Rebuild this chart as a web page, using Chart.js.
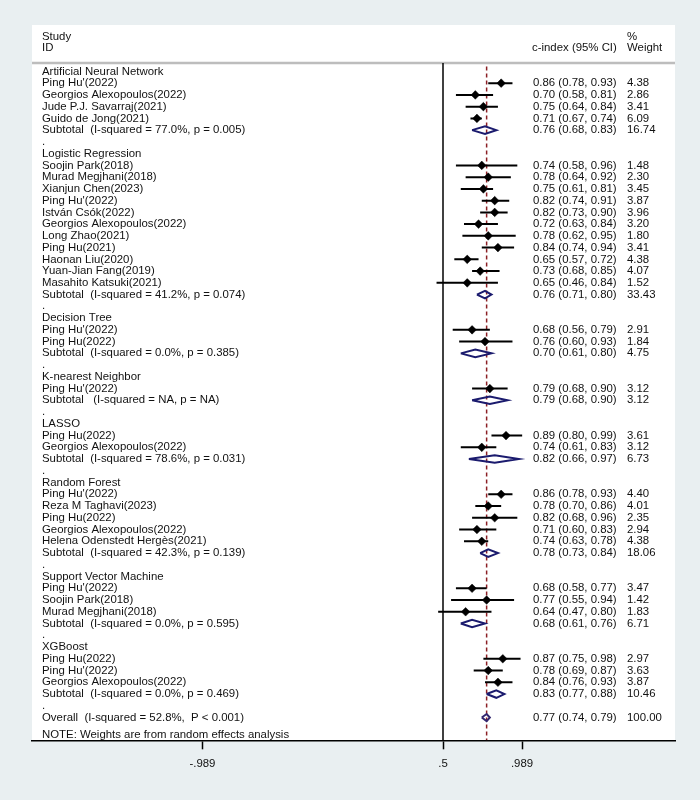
<!DOCTYPE html>
<html>
<head>
<meta charset="utf-8">
<script src="https://cdn.jsdelivr.net/npm/chart.js@4.4.1/dist/chart.umd.min.js"></script>
<style>
  html, body { margin: 0; padding: 0; background: #e9eff1; }
  #wrap { width: 700px; height: 800px; }
</style>
</head>
<body>
<div id="wrap"><canvas id="forest" width="700" height="800"></canvas></div>
<script>
// c-index (95% CI) by model family, random effects
const groupNames = ['Artificial Neural Network', 'Logistic Regression', 'Decision Tree', 'K-nearest Neighbor',
  'LASSO', 'Random Forest', 'Support Vector Machine', 'XGBoost'];

const studyNames = [
  "Ping Hu'(2022)", 'Georgios Alexopoulos(2022)', 'Jude P.J. Savarraj(2021)', 'Guido de Jong(2021)',
  'Soojin Park(2018)', 'Murad Megjhani(2018)', 'Xianjun Chen(2023)', "Ping Hu'(2022)", 'István Csók(2022)',
  'Georgios Alexopoulos(2022)', 'Long Zhao(2021)', 'Ping Hu(2021)', 'Haonan Liu(2020)', 'Yuan-Jian Fang(2019)',
  'Masahito Katsuki(2021)',
  "Ping Hu'(2022)", 'Ping Hu(2022)',
  "Ping Hu'(2022)",
  'Ping Hu(2022)', 'Georgios Alexopoulos(2022)',
  "Ping Hu'(2022)", 'Reza M Taghavi(2023)', 'Ping Hu(2022)', 'Georgios Alexopoulos(2022)', 'Helena Odenstedt Hergès(2021)',
  "Ping Hu'(2022)", 'Soojin Park(2018)', 'Murad Megjhani(2018)',
  'Ping Hu(2022)', "Ping Hu'(2022)", 'Georgios Alexopoulos(2022)'
];
const studyGroup = [0, 0, 0, 0, 1, 1, 1, 1, 1, 1, 1, 1, 1, 1, 1, 2, 2, 3, 4, 4, 5, 5, 5, 5, 5, 6, 6, 6, 7, 7, 7];
const cIndex = [0.86, 0.70, 0.75, 0.71, 0.74, 0.78, 0.75, 0.82, 0.82, 0.72, 0.78, 0.84, 0.65, 0.73, 0.65,
  0.68, 0.76, 0.79, 0.89, 0.74, 0.86, 0.78, 0.82, 0.71, 0.74, 0.68, 0.77, 0.64, 0.87, 0.78, 0.84];
const ciLow = [0.78, 0.58, 0.64, 0.67, 0.58, 0.64, 0.61, 0.74, 0.73, 0.63, 0.62, 0.74, 0.57, 0.68, 0.46,
  0.56, 0.60, 0.68, 0.80, 0.61, 0.78, 0.70, 0.68, 0.60, 0.63, 0.58, 0.55, 0.47, 0.75, 0.69, 0.76];
const ciHigh = [0.93, 0.81, 0.84, 0.74, 0.96, 0.92, 0.81, 0.91, 0.90, 0.84, 0.95, 0.94, 0.72, 0.85, 0.84,
  0.79, 0.93, 0.90, 0.99, 0.83, 0.93, 0.86, 0.96, 0.83, 0.78, 0.77, 0.94, 0.80, 0.98, 0.87, 0.93];
const weights = [4.38, 2.86, 3.41, 6.09, 1.48, 2.30, 3.45, 3.87, 3.96, 3.20, 1.80, 3.41, 4.38, 4.07, 1.52,
  2.91, 1.84, 3.12, 3.61, 3.12, 4.40, 4.01, 2.35, 2.94, 4.38, 3.47, 1.42, 1.83, 2.97, 3.63, 3.87];

const subtotalLabels = [
  'Subtotal  (I-squared = 77.0%, p = 0.005)', 'Subtotal  (I-squared = 41.2%, p = 0.074)',
  'Subtotal  (I-squared = 0.0%, p = 0.385)', 'Subtotal   (I-squared = NA, p = NA)',
  'Subtotal  (I-squared = 78.6%, p = 0.031)', 'Subtotal  (I-squared = 42.3%, p = 0.139)',
  'Subtotal  (I-squared = 0.0%, p = 0.595)', 'Subtotal  (I-squared = 0.0%, p = 0.469)'
];
const subEst = [0.76, 0.76, 0.70, 0.79, 0.82, 0.78, 0.68, 0.83];
const subLow = [0.68, 0.71, 0.61, 0.68, 0.66, 0.73, 0.61, 0.77];
const subHigh = [0.83, 0.80, 0.80, 0.90, 0.97, 0.84, 0.76, 0.88];
const subWeight = [16.74, 33.43, 4.75, 3.12, 6.73, 18.06, 6.71, 10.46];

const overallLabel = 'Overall  (I-squared = 52.8%,  P < 0.001)';
const overallEst = 0.77, overallLow = 0.74, overallHigh = 0.79, overallWeight = 100.00;
const noteText = 'NOTE: Weights are from random effects analysis';

const xTicks = [-0.989, 0.5, 0.989];
const nullValue = 0.5;

// layout rows (one unit per text line)
const rows = [];
let r = 0;
groupNames.forEach((g, gi) => {
  rows.push({ y: r++, label: g, kind: 'head' });
  studyNames.forEach((s, i) => {
    if (studyGroup[i] !== gi) return;
    rows.push({ y: r++, label: s, kind: 'study', est: cIndex[i], lo: ciLow[i], hi: ciHigh[i], w: weights[i] });
  });
  rows.push({ y: r++, label: subtotalLabels[gi], kind: 'sub', est: subEst[gi], lo: subLow[gi], hi: subHigh[gi], w: subWeight[gi] });
  rows.push({ y: r++, label: '.', kind: 'gap' });
});
const overallRow = r;
rows.push({ y: r, label: overallLabel, kind: 'overall', est: overallEst, lo: overallLow, hi: overallHigh, w: overallWeight });

const Y_MIN = -3.95, Y_MAX = 56.94, X_MIN = -2.044, X_MAX = 1.936;
const HEAD_LINE = -0.72;
const FONT = "11.4px 'Liberation Sans', Arial, sans-serif";

const gap = { x: null, y: null };
const ciLines = [], studyPts = [], subDiamonds = [];
rows.forEach(row => {
  if (row.kind === 'study') {
    ciLines.push({ x: row.lo, y: row.y }, { x: row.hi, y: row.y }, gap);
    studyPts.push({ x: row.est, y: row.y });
  } else if (row.kind === 'sub') {
    subDiamonds.push({ x: row.lo, y: row.y }, { x: row.est, y: row.y - 0.32 }, { x: row.hi, y: row.y },
      { x: row.est, y: row.y + 0.32 }, { x: row.lo, y: row.y }, gap);
  }
});
const overallDiamond = [
  { x: overallLow, y: overallRow }, { x: overallEst, y: overallRow - 0.3 }, { x: overallHigh, y: overallRow },
  { x: overallEst, y: overallRow + 0.3 }, { x: overallLow, y: overallRow }
];

const fmtTick = v => String(v).replace(/^(-?)0\./, '$1.');

const bgPlugin = {
  id: 'bg',
  beforeDraw(chart) {
    const { ctx, chartArea: a } = chart;
    ctx.save();
    ctx.fillStyle = '#e9eff1';
    ctx.fillRect(0, 0, chart.width, chart.height);
    ctx.fillStyle = '#ffffff';
    ctx.fillRect(a.left, a.top, a.right - a.left, a.bottom - a.top);
    ctx.restore();
  }
};

const textPlugin = {
  id: 'forestText',
  afterDatasetsDraw(chart) {
    const { ctx, scales: { y } } = chart;
    ctx.save();
    ctx.font = FONT;
    ctx.fillStyle = '#111';
    ctx.textBaseline = 'middle';
    ctx.textAlign = 'left';
    const put = (t, x, row) => ctx.fillText(t, x, y.getPixelForValue(row));
    put('Study', 42, -2.95);
    put('ID', 42, -2.0);
    put('c-index (95% CI)', 532, -2.0);
    put('%', 627, -2.95);
    put('Weight', 627, -2.0);
    rows.forEach(row => {
      put(row.label, 42, row.y);
      if (row.est !== undefined) {
        put(row.est.toFixed(2) + ' (' + row.lo.toFixed(2) + ', ' + row.hi.toFixed(2) + ')', 533, row.y);
        put(row.w.toFixed(2), 627, row.y);
      }
    });
    put(noteText, 42, overallRow + 1.5);
    ctx.restore();
  }
};

new Chart(document.getElementById('forest'), {
  type: 'scatter',
  data: {
    datasets: [
      { data: studyPts, pointStyle: 'rectRot', pointRadius: 4.3, backgroundColor: '#000', borderColor: '#000', borderWidth: 0.5, order: 1 },
      { data: ciLines, showLine: true, borderColor: '#000', borderWidth: 2, pointRadius: 0, order: 2 },
      { data: subDiamonds, showLine: true, borderColor: '#1b1b6e', borderWidth: 2, pointRadius: 0, order: 1 },
      { data: overallDiamond, showLine: true, borderColor: '#33266f', borderWidth: 2, pointRadius: 0, order: 1 },
      { data: [{ x: overallEst, y: -0.41 }, { x: overallEst, y: Y_MAX }], showLine: true, borderColor: '#8b1f24',
        borderWidth: 1.5, borderDash: [4, 3], pointRadius: 0, order: 5 },
      { data: [{ x: nullValue, y: HEAD_LINE }, { x: nullValue, y: Y_MAX }], showLine: true, borderColor: '#000',
        borderWidth: 1.5, pointRadius: 0, order: 6 },
      { data: [{ x: X_MIN, y: HEAD_LINE }, { x: X_MAX, y: HEAD_LINE }], showLine: true, borderColor: '#bdbdbd',
        borderWidth: 2.5, pointRadius: 0, order: 7 }
    ]
  },
  options: {
    responsive: false,
    devicePixelRatio: 1,
    animation: false,
    events: [],
    layout: { padding: { left: 32, right: 25, top: 25, bottom: 21 } },
    plugins: { legend: { display: false }, tooltip: { enabled: false } },
    scales: {
      x: {
        type: 'linear', min: X_MIN, max: X_MAX,
        afterBuildTicks: scale => { scale.ticks = xTicks.map(v => ({ value: v })); },
        ticks: { callback: v => fmtTick(v), color: '#111', padding: 8, maxRotation: 0,
          font: { family: "'Liberation Sans', Arial, sans-serif", size: 11.4 } },
        grid: { drawOnChartArea: false, drawTicks: true, tickLength: 9, tickColor: '#000', tickWidth: 1.5 },
        border: { display: true, color: '#000', width: 1.5 }
      },
      y: { type: 'linear', display: false, reverse: true, min: Y_MIN, max: Y_MAX }
    }
  },
  plugins: [bgPlugin, textPlugin]
});
</script>
</body>
</html>
